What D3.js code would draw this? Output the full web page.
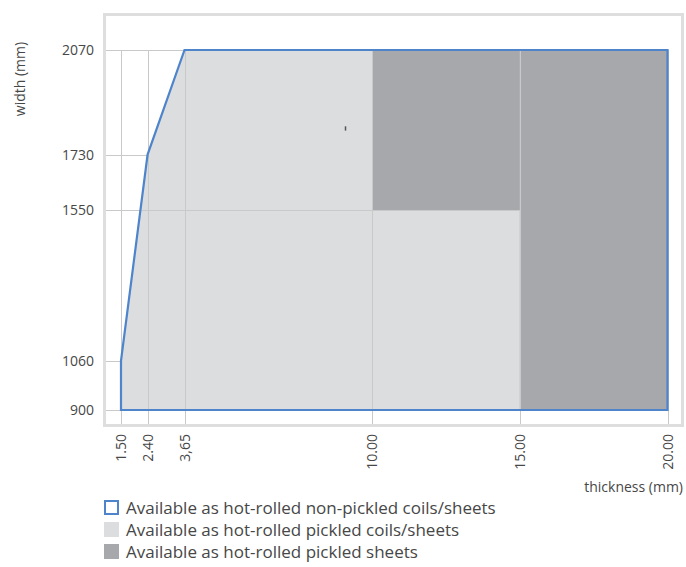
<!DOCTYPE html>
<html><head><meta charset="utf-8">
<script src="https://cdn.jsdelivr.net/npm/d3@7"></script>
<style>body{margin:0;background:#fff}svg{display:block}text{font-family:"Open Sans",sans-serif;fill:#474747}</style>
</head><body><svg id="c" width="686" height="567"></svg>
<script>
// data
const xTicks = [1.5, 2.4, 3.65, 10, 15, 20];
const xTickLabels = ["1.50", "2.40", "3,65", "10.00", "15.00", "20.00"];
const yTicks = [900, 1060, 1550, 1730, 2070];
const nonPickledOutline = [[1.5, 900], [1.5, 1060], [2.4, 1730], [3.65, 2070], [20, 2070], [20, 900]];
const pickledCoils = [[1.5, 900], [1.5, 1060], [2.4, 1730], [3.65, 2070], [20, 2070], [20, 900]];
const pickledSheets = [ {x0: 10, x1: 15, y0: 1550, y1: 2070}, {x0: 15, x1: 20, y0: 900, y1: 2070} ];
const boundary1550 = [[1.5, 1550], [15, 1550]];
const strayMark = [[9.1, 1808], [9.1, 1822]];
const legendItems = ["Available as hot-rolled non-pickled coils/sheets", "Available as hot-rolled pickled coils/sheets", "Available as hot-rolled pickled sheets"];

const svg = d3.select("#c");
const x = d3.scaleLinear().domain([1.5, 20]).range([121, 667.5]);
const y = d3.scaleLinear().domain([900, 2070]).range([410, 50]);
const frame = {l: 104.5, r: 682.5, t: 14.5, b: 425.5};
const grid = "#c9c9c9", light = "#dcdddf", dark = "#a7a8ab", blue = "#4d84cb";

// frame
svg.append("rect").attr("x", frame.l).attr("y", frame.t).attr("width", frame.r - frame.l).attr("height", frame.b - frame.t)
  .attr("fill", "none").attr("stroke", "#dedede").attr("stroke-width", 3);

// horizontal gridlines (under fills)
svg.append("g").selectAll("line").data(yTicks).join("line")
  .attr("x1", frame.l + 1.5).attr("x2", x(20)).attr("y1", d => Math.round(y(d)) + 0.5).attr("y2", d => Math.round(y(d)) + 0.5)
  .attr("stroke", grid).attr("stroke-width", 1);

const line = d3.line().x(d => x(d[0])).y(d => y(d[1]));
// light fill
svg.append("path").attr("d", line(pickledCoils) + "Z").attr("fill", light);
// dark rects
svg.append("g").selectAll("rect").data(pickledSheets).join("rect")
  .attr("x", d => x(d.x0)).attr("width", d => x(d.x1) - x(d.x0))
  .attr("y", d => y(d.y1)).attr("height", d => y(d.y0) - y(d.y1)).attr("fill", dark);
// boundary 1550
svg.append("path").attr("d", line(boundary1550)).attr("stroke", grid).attr("fill", "none")
  .attr("transform", "translate(0,0.5)");
// vertical gridlines (over fills)
svg.append("g").selectAll("line").data(xTicks).join("line")
  .attr("x1", d => Math.round(x(d)) + 0.5).attr("x2", d => Math.round(x(d)) + 0.5)
  .attr("y1", y(2070)).attr("y2", frame.b - 1.5)
  .attr("stroke", grid).attr("stroke-width", 1);
// stray mark
svg.append("path").attr("d", line(strayMark)).attr("stroke", "#555").attr("stroke-width", 1.5);
// blue outline
svg.append("path").attr("d", line(nonPickledOutline) + "Z").attr("fill", "none").attr("stroke", blue).attr("stroke-width", 2.2).attr("stroke-linejoin", "miter");

// y tick labels
svg.append("g").selectAll("text").data(yTicks).join("text")
  .attr("x", 94).attr("y", d => y(d) + 5).attr("text-anchor", "end").attr("font-size", 14).text(d => d);
// x tick labels
svg.append("g").selectAll("text").data(xTicks).join("text")
  .attr("transform", d => `translate(${x(d) + 5},434) rotate(-90)`).attr("text-anchor", "end")
  .attr("font-size", 14).text((d, i) => xTickLabels[i]);
// axis titles
svg.append("text").attr("transform", "translate(25,79) rotate(-90)").attr("text-anchor", "middle").attr("font-size", 14).text("width (mm)");
svg.append("text").attr("x", 683).attr("y", 492).attr("text-anchor", "end").attr("font-size", 14).text("thickness (mm)");

// legend
const lg = svg.append("g").selectAll("g").data(legendItems).join("g").attr("transform", (d, i) => `translate(104,${500 + i * 22})`);
lg.append("rect").attr("x", (d, i) => i === 0 ? 1 : 0).attr("y", (d, i) => i === 0 ? 1 : 0)
  .attr("width", (d, i) => i === 0 ? 13 : 15).attr("height", (d, i) => i === 0 ? 13 : 15)
  .attr("fill", (d, i) => i === 0 ? "#fff" : (i === 1 ? light : dark))
  .attr("stroke", (d, i) => i === 0 ? blue : "none").attr("stroke-width", 2);
lg.append("text").attr("x", 22).attr("y", 14).attr("font-size", 17).text(d => d);
</script></body></html>
